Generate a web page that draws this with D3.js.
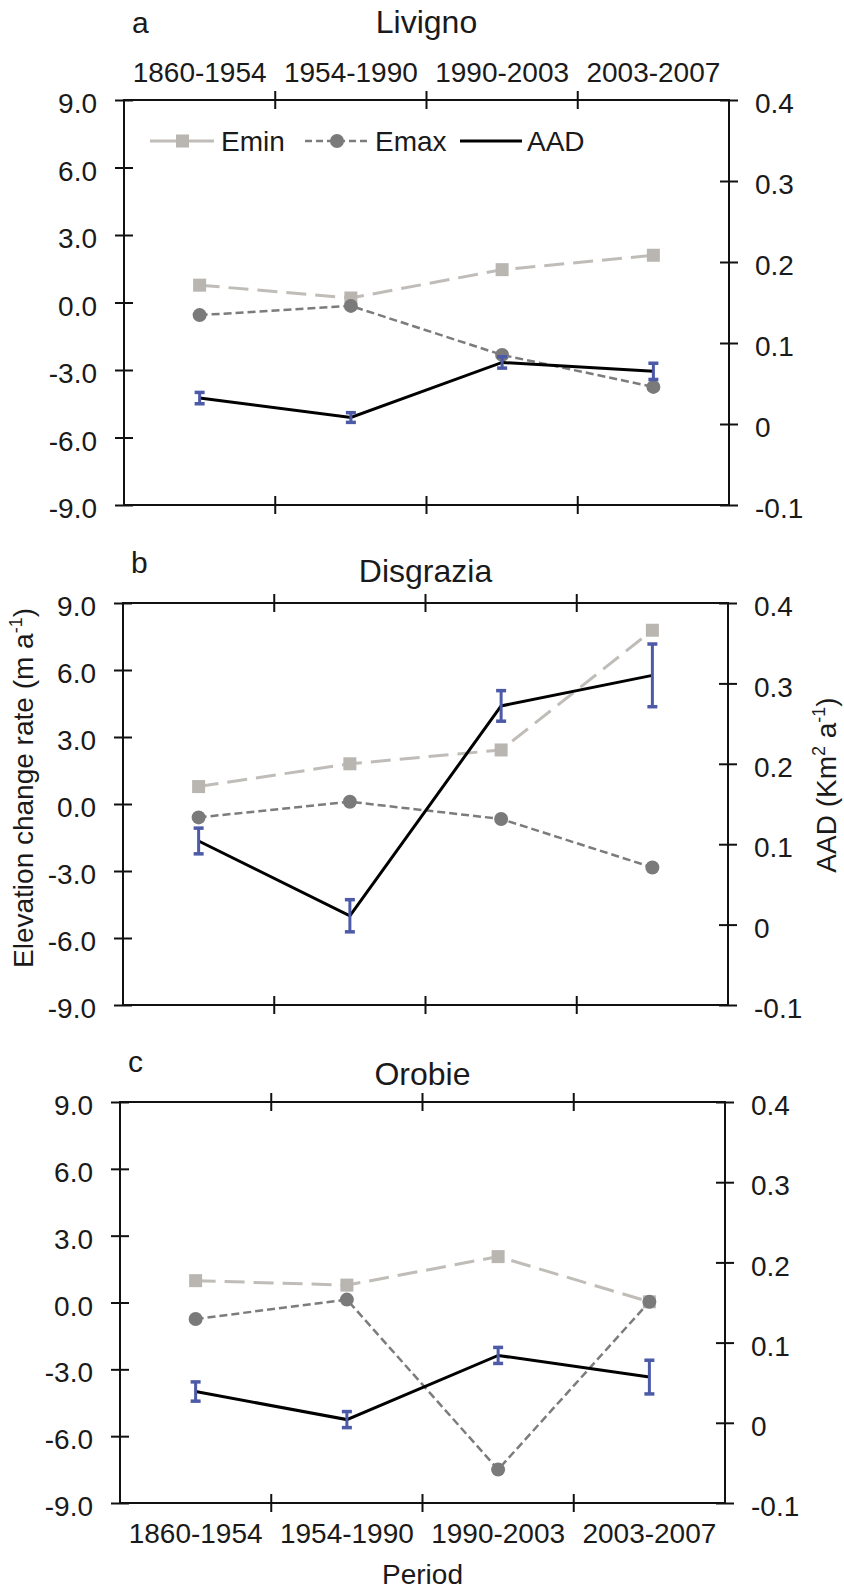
<!DOCTYPE html>
<html lang="en">
<head>
  <meta charset="utf-8" />
  <title>Elevation change rate and AAD — Livigno, Disgrazia, Orobie</title>
  <script src="https://cdn.jsdelivr.net/npm/d3@7"></script>
  <style>
    body { margin: 0; background: #fff; }
    svg text { font-family: "Liberation Sans", Arial, sans-serif; fill: #1a1a1a; }
  </style>
</head>
<body>
<svg id="chart" width="844" height="1589"></svg>
<script>
  // categories and labels
  const periods = ["1860-1954", "1954-1990", "1990-2003", "2003-2007"];
  const glaciers = ["Livigno", "Disgrazia", "Orobie"];
  const panelLetters = ["a", "b", "c"];
  const seriesNames = ["Emin", "Emax", "AAD"];
  const elevTicks = [9, 6, 3, 0, -3, -6, -9];
  const aadTicks = [0.4, 0.3, 0.2, 0.1, 0, -0.1];

  // values (m a-1 and km2 a-1)
  const eminLivigno = [0.77, 0.2, 1.46, 2.1];
  const emaxLivigno = [-0.56, -0.15, -2.33, -3.75];
  const aadLivigno = [0.032, 0.008, 0.076, 0.065];
  const aadErrLivigno = [0.007, 0.006, 0.007, 0.01];

  const eminDisgrazia = [0.78, 1.8, 2.42, 7.78];
  const emaxDisgrazia = [-0.6, 0.1, -0.67, -2.84];
  const aadDisgrazia = [0.104, 0.011, 0.272, 0.31];
  const aadErrDisgrazia = [0.016, 0.02, 0.019, 0.039];

  const eminOrobie = [0.98, 0.78, 2.06, 0.03];
  const emaxOrobie = [-0.74, 0.13, -7.5, 0.03];
  const aadOrobie = [0.039, 0.004, 0.084, 0.057];
  const aadErrOrobie = [0.012, 0.01, 0.01, 0.021];

  // colours
  const eminColor = "#c0bdb9", eminMarker = "#b9b6b2";
  const emaxColor = "#7c7c7c", emaxMarker = "#7a7a7a";
  const errColor = "#4c5aa7";
  const fs = 28;

  const panels = [
    { emin: eminLivigno, emax: emaxLivigno, aad: aadLivigno, err: aadErrLivigno,
      box: { left: 124, right: 729, top: 100, bottom: 505 }, titleY: 33, letterY: 33 },
    { emin: eminDisgrazia, emax: emaxDisgrazia, aad: aadDisgrazia, err: aadErrDisgrazia,
      box: { left: 123, right: 728, top: 603, bottom: 1005 }, titleY: 582, letterY: 573 },
    { emin: eminOrobie, emax: emaxOrobie, aad: aadOrobie, err: aadErrOrobie,
      box: { left: 120, right: 725, top: 1102, bottom: 1503 }, titleY: 1085, letterY: 1072 }
  ];

  const svg = d3.select("#chart");

  panels.forEach(function (p, k) {
    const b = p.box;
    const g = svg.append("g");

    const x = d3.scaleBand().domain(periods).range([b.left, b.right]);
    const cx = function (i) { return x(periods[i]) + x.bandwidth() / 2; };
    const y = d3.scaleLinear().domain([-9, 9]).range([b.bottom, b.top]);
    const y2 = d3.scaleLinear().domain([-0.1, 0.4]).range([b.bottom, b.top]);

    // panel letter and title
    g.append("text").attr("x", b.left + 8).attr("y", p.letterY)
      .attr("font-size", 30).text(panelLetters[k]);
    g.append("text").attr("x", (b.left + b.right) / 2).attr("y", p.titleY)
      .attr("text-anchor", "middle").attr("font-size", 32).text(glaciers[k]);

    // left axis
    const ax = g.append("g").attr("transform", "translate(" + b.left + ",0)")
      .call(d3.axisLeft(y).tickValues(elevTicks)
        .tickFormat(function (d) { return d.toFixed(1); })
        .tickSize(9).tickPadding(18));
    ax.select(".domain").remove();
    ax.selectAll(".tick line").attr("x1", 9).attr("stroke", "#111").attr("stroke-width", 2);
    ax.selectAll(".tick text").attr("font-size", fs).attr("dy", "0.45em")
      .attr("font-family", "Liberation Sans, Arial, sans-serif").attr("fill", "#1a1a1a");

    // right axis
    const ax2 = g.append("g").attr("transform", "translate(" + b.right + ",0)")
      .call(d3.axisRight(y2).tickValues(aadTicks)
        .tickFormat(function (d) { return String(d); })
        .tickSize(9).tickPadding(17));
    ax2.select(".domain").remove();
    ax2.selectAll(".tick line").attr("x1", -9).attr("stroke", "#111").attr("stroke-width", 2);
    ax2.selectAll(".tick text").attr("font-size", fs).attr("dy", "0.45em")
      .attr("font-family", "Liberation Sans, Arial, sans-serif").attr("fill", "#1a1a1a");

    // frame
    g.append("rect").attr("x", b.left).attr("y", b.top)
      .attr("width", b.right - b.left).attr("height", b.bottom - b.top)
      .attr("fill", "none").attr("stroke", "#111").attr("stroke-width", 2);

    // category boundary ticks on top and bottom
    const bounds = periods.slice(1).map(function (d) { return x(d); });
    [b.top, b.bottom].forEach(function (yy) {
      g.selectAll(null).data(bounds).enter().append("line")
        .attr("x1", function (d) { return d; }).attr("x2", function (d) { return d; })
        .attr("y1", yy - 9).attr("y2", yy + 9)
        .attr("stroke", "#111").attr("stroke-width", 2);
    });

    if (k === 0) {
      g.selectAll(null).data(periods).enter().append("text")
        .attr("x", function (d, i) { return cx(i); }).attr("y", 82)
        .attr("text-anchor", "middle").attr("font-size", fs).text(function (d) { return d; });
    }
    if (k === panels.length - 1) {
      g.selectAll(null).data(periods).enter().append("text")
        .attr("x", function (d, i) { return cx(i); }).attr("y", 1543)
        .attr("text-anchor", "middle").attr("font-size", fs).text(function (d) { return d; });
      g.append("text").attr("x", (b.left + b.right) / 2).attr("y", 1584)
        .attr("text-anchor", "middle").attr("font-size", fs).text("Period");
    }

    // Emin
    const lineE = d3.line().x(function (d, i) { return cx(i); }).y(function (d) { return y(d); });
    g.append("path").attr("d", lineE(p.emin)).attr("fill", "none")
      .attr("stroke", eminColor).attr("stroke-width", 3).attr("stroke-dasharray", "20,9");
    g.selectAll(null).data(p.emin).enter().append("rect")
      .attr("x", function (d, i) { return cx(i) - 6.5; }).attr("y", function (d) { return y(d) - 6.5; })
      .attr("width", 13).attr("height", 13).attr("fill", eminMarker);

    // Emax
    g.append("path").attr("d", lineE(p.emax)).attr("fill", "none")
      .attr("stroke", emaxColor).attr("stroke-width", 2.5).attr("stroke-dasharray", "8,4");
    g.selectAll(null).data(p.emax).enter().append("circle")
      .attr("cx", function (d, i) { return cx(i); }).attr("cy", function (d) { return y(d); })
      .attr("r", 7).attr("fill", emaxMarker);

    // AAD on the secondary axis
    const lineA = d3.line().x(function (d, i) { return cx(i); }).y(function (d) { return y2(d); });
    g.append("path").attr("d", lineA(p.aad)).attr("fill", "none")
      .attr("stroke", "#000").attr("stroke-width", 3);

    // error bars
    p.aad.forEach(function (v, i) {
      const xx = cx(i), lo = y2(v - p.err[i]), hi = y2(v + p.err[i]);
      g.append("line").attr("x1", xx).attr("x2", xx).attr("y1", lo).attr("y2", hi)
        .attr("stroke", errColor).attr("stroke-width", 3);
      [lo, hi].forEach(function (yy) {
        g.append("line").attr("x1", xx - 5).attr("x2", xx + 5).attr("y1", yy).attr("y2", yy)
          .attr("stroke", errColor).attr("stroke-width", 3.5);
      });
    });
  });

  // legend inside panel a
  const lg = svg.append("g");
  const ly = 141;
  lg.append("line").attr("x1", 150).attr("x2", 214).attr("y1", ly).attr("y2", ly)
    .attr("stroke", eminColor).attr("stroke-width", 3);
  lg.append("rect").attr("x", 176).attr("y", ly - 6.5).attr("width", 13).attr("height", 13)
    .attr("fill", eminMarker);
  lg.append("text").attr("x", 221).attr("y", ly + 10).attr("font-size", fs).text(seriesNames[0]);

  lg.append("line").attr("x1", 305).attr("x2", 368).attr("y1", ly).attr("y2", ly)
    .attr("stroke", emaxColor).attr("stroke-width", 2.5).attr("stroke-dasharray", "7,4");
  lg.append("circle").attr("cx", 337).attr("cy", ly).attr("r", 7).attr("fill", emaxMarker);
  lg.append("text").attr("x", 375).attr("y", ly + 10).attr("font-size", fs).text(seriesNames[1]);

  lg.append("line").attr("x1", 460).attr("x2", 522).attr("y1", ly).attr("y2", ly)
    .attr("stroke", "#000").attr("stroke-width", 3);
  lg.append("text").attr("x", 527).attr("y", ly + 10).attr("font-size", fs).text(seriesNames[2]);

  // axis titles
  const t1 = svg.append("text").attr("transform", "translate(33,788) rotate(-90)")
    .attr("text-anchor", "middle").attr("font-size", fs);
  t1.append("tspan").text("Elevation change rate (m a");
  t1.append("tspan").attr("dy", -11).attr("font-size", 18).text("-1");
  t1.append("tspan").attr("dy", 11).text(")");

  const t2 = svg.append("text").attr("transform", "translate(836,785) rotate(-90)")
    .attr("text-anchor", "middle").attr("font-size", fs);
  t2.append("tspan").text("AAD (Km");
  t2.append("tspan").attr("dy", -11).attr("font-size", 18).text("2");
  t2.append("tspan").attr("dy", 11).text(" a");
  t2.append("tspan").attr("dy", -11).attr("font-size", 18).text("-1");
  t2.append("tspan").attr("dy", 11).text(")");
</script>
</body>
</html>
